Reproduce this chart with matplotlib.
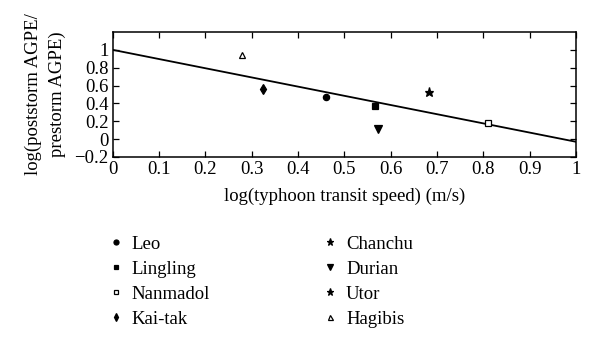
import matplotlib.pyplot as plt
import numpy as np

plt.rcParams['font.family'] = ['Liberation Serif', 'DejaVu Serif']

names = ["Leo", "Lingling", "Nanmadol", "Kai-tak", "Chanchu", "Durian", "Utor", "Hagibis"]
speed = [0.46, 0.567, 0.81, 0.325, 0.683, 0.572, None, 0.28]
agpe = [0.47, 0.37, 0.186, 0.565, 0.527, 0.115, None, 0.947]
markers = ["o", "s", "s", "d", "*", "v", "*", "^"]
filled = [True, True, False, True, True, True, True, False]
sizes = [4.5, 4, 4, 5, 6.5, 5.5, 6.5, 4.5]

fit_x = [0, 1]
fit_y = [1.0, -0.03]

fig = plt.figure(figsize=(6, 3.48), dpi=100)
ax = fig.add_axes([0.188, 0.549, 0.772, 0.359])

ax.plot(fit_x, fit_y, color="black", lw=1.3)
for n, x, y, m, f, s in zip(names, speed, agpe, markers, filled, sizes):
    xs = [] if x is None else [x]
    ys = [] if y is None else [y]
    ax.plot(xs, ys, linestyle="none", marker=m, markersize=s,
            markerfacecolor="black" if f else "white", markeredgecolor="black",
            markeredgewidth=0.9, label=n)

ax.set_xlim(0, 1)
ax.set_ylim(-0.2, 1.2)
ax.set_xticks(np.arange(0, 1.01, 0.1))
ax.set_xticklabels(["0", "0.1", "0.2", "0.3", "0.4", "0.5", "0.6", "0.7", "0.8", "0.9", "1"])
ax.set_yticks(np.arange(-0.2, 1.01, 0.2))
ax.set_yticklabels(["\u22120.2", "0", "0.2", "0.4", "0.6", "0.8", "1"])
ax.tick_params(direction="in", top=True, right=True, labelsize=13.5, length=4, width=0.9, pad=3)
for sp in ax.spines.values():
    sp.set_linewidth(1.1)

ax.set_xlabel("log(typhoon transit speed) (m/s)", fontsize=13.5, labelpad=7)
ax.set_ylabel("log(poststorm AGPE/\nprestorm AGPE)", fontsize=13.5, labelpad=6, linespacing=1.5)

fig.legend(loc="upper left", bbox_to_anchor=(0.168, 0.345), ncol=2, frameon=False,
           fontsize=13.5, handlelength=0.8, handletextpad=0.45, columnspacing=6.0,
           labelspacing=0.42, borderaxespad=0, markerscale=0.8)

fig.savefig("out.png", dpi=100)
